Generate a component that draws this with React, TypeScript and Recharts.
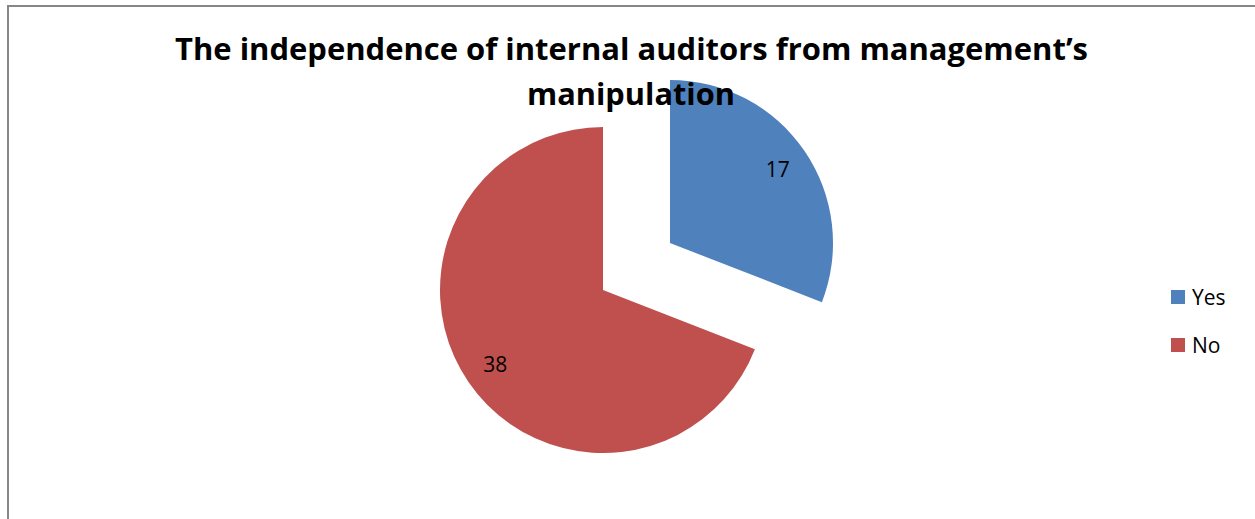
import React from "react"
import { PieChart, Pie, Cell, Legend } from "recharts"

const categories = ["Yes", "No"]
const counts = [17, 38]
const colors = ["#4F81BD", "#C0504D"]

const titleLines = ["The independence of internal auditors from management\u2019s", "manipulation"]

const data = categories.map((name, i) => ({ name, value: counts[i] }))

const RADIAN = Math.PI / 180
const FONT = "'Open Sans', 'DejaVu Sans', sans-serif"

// label only the slice that this pie actually shows
const makeLabel = (shown: number) => (props: any) => {
  const { cx, cy, midAngle, outerRadius, index, value } = props
  if (index !== shown) return null
  const r = outerRadius * 0.8
  const x = cx + r * Math.cos(-midAngle * RADIAN)
  const y = cy + r * Math.sin(-midAngle * RADIAN)
  return (
    <text x={x} y={y} textAnchor="middle" dominantBaseline="central" fill="#000" fontSize={21} fontFamily={FONT}>
      {value}
    </text>
  )
}

const renderLegend = () => (
  <div style={{ fontFamily: FONT, fontSize: 21, color: "#000" }}>
    {categories.map((name, i) => (
      <div key={name} style={{ display: "flex", alignItems: "center", height: 48 }}>
        <span style={{ display: "inline-block", width: 14, height: 14, background: colors[i], marginRight: 7 }} />
        <span>{name}</span>
      </div>
    ))}
  </div>
)

export default function App() {
  return (
    <div style={{ position: "absolute", left: 0, top: 0, width: 1255, height: 519, background: "#fff", overflow: "hidden" }}>
      <div
        style={{
          position: "absolute",
          left: 7,
          top: 5,
          width: 1300,
          height: 600,
          borderLeft: "2px solid #878787",
          borderTop: "2px solid #878787",
        }}
      />
      <div style={{ position: "absolute", left: 0, top: 0 }}>
        <PieChart width={1255} height={519} margin={{ top: 0, right: 0, bottom: 0, left: 0 }}>
          <Pie
            data={data}
            dataKey="value"
            nameKey="name"
            cx={603}
            cy={290}
            outerRadius={163}
            startAngle={90}
            endAngle={-270}
            stroke="none"
            label={makeLabel(1)}
            labelLine={false}
            legendType="none"
            isAnimationActive={false}
          >
            {data.map((d, i) => (
              <Cell key={d.name} fill={i === 1 ? colors[i] : "none"} />
            ))}
          </Pie>
          <Pie
            data={data}
            dataKey="value"
            nameKey="name"
            cx={670}
            cy={243}
            outerRadius={163}
            startAngle={90}
            endAngle={-270}
            stroke="none"
            label={makeLabel(0)}
            labelLine={false}
            legendType="none"
            isAnimationActive={false}
          >
            {data.map((d, i) => (
              <Cell key={d.name} fill={i === 0 ? colors[i] : "none"} />
            ))}
          </Pie>
          <Legend
            content={renderLegend}
            layout="vertical"
            wrapperStyle={{ position: "absolute", left: 1171, top: 273, width: 80 }}
          />
        </PieChart>
      </div>
      <svg width={1255} height={519} style={{ position: "absolute", left: 0, top: 0, pointerEvents: "none" }}>
        <text x={631.5} y={60} textAnchor="middle" fontFamily={FONT} fontWeight={700} fontSize={31} textLength={913} lengthAdjust="spacingAndGlyphs">
          {titleLines[0]}
        </text>
        <text x={631} y={105} textAnchor="middle" fontFamily={FONT} fontWeight={700} fontSize={31} textLength={208} lengthAdjust="spacingAndGlyphs">
          {titleLines[1]}
        </text>
      </svg>
    </div>
  )
}
